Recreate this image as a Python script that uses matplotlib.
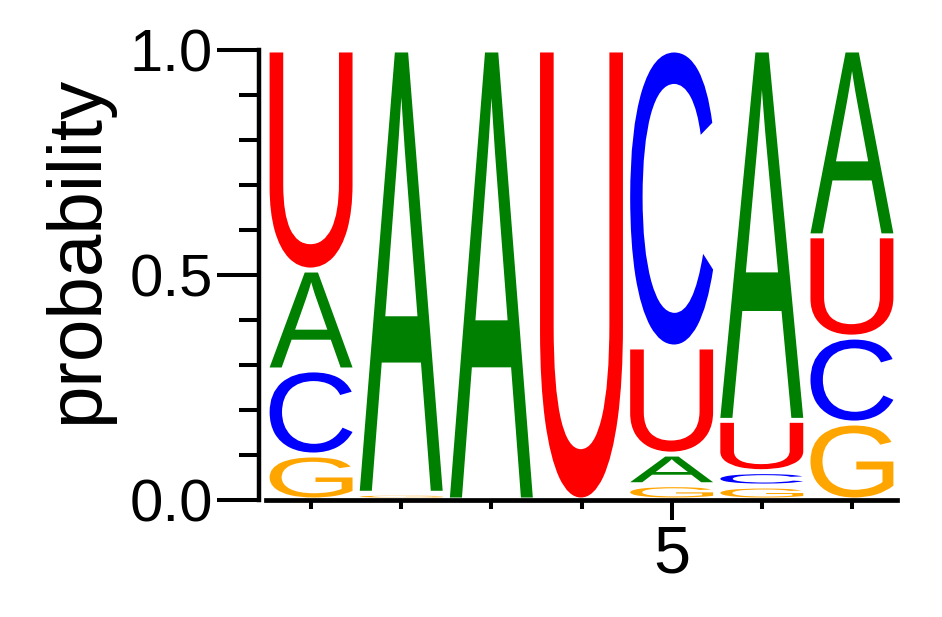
import matplotlib
matplotlib.use('Agg')
import matplotlib.pyplot as plt
from matplotlib.textpath import TextPath
from matplotlib.patches import PathPatch
from matplotlib.font_manager import FontProperties
from matplotlib.transforms import Affine2D
from matplotlib.ticker import MultipleLocator

# sequence logo, probability per base at each position
positions = [1, 2, 3, 4, 5, 6, 7]
prob_A = [0.222, 0.985, 1.000, 0.000, 0.068, 0.823, 0.413]
prob_C = [0.189, 0.000, 0.000, 0.000, 0.660, 0.032, 0.191]
prob_G = [0.100, 0.015, 0.000, 0.000, 0.034, 0.031, 0.171]
prob_U = [0.489, 0.000, 0.000, 1.000, 0.238, 0.114, 0.225]

colors = {'A': '#008000', 'C': '#0000ff', 'G': '#ffa500', 'U': '#ff0000'}

plt.rcParams['font.family'] = ['Liberation Sans', 'DejaVu Sans']

fig = plt.figure(figsize=(9.42, 6.17), dpi=100)
ax = fig.add_axes([266 / 942, 1 - 500 / 617, (897 - 266) / 942, 450 / 617])

fp = FontProperties(family='Liberation Sans')
glyph_w = 0.92
pad = 0.0055


def draw_letter(letter, x, y0, h):
    hh = h - 2 * pad
    if hh <= 0:
        return
    tp = TextPath((0, 0), letter, size=1, prop=fp)
    bb = tp.get_extents()
    t = (Affine2D().translate(-bb.x0, -bb.y0)
         .scale(glyph_w / bb.width, hh / bb.height)
         .translate(x - glyph_w / 2, y0 + pad))
    ax.add_patch(PathPatch(t.transform_path(tp), facecolor=colors[letter],
                           edgecolor='none', lw=0))


for i, x in enumerate(positions):
    col = [(prob_A[i], 'A'), (prob_C[i], 'C'), (prob_G[i], 'G'), (prob_U[i], 'U')]
    col.sort(key=lambda c: c[0])
    y = 0.0
    for v, letter in col:
        if v > 0:
            draw_letter(letter, x, y, v)
        y += v

ax.set_xlim(0.5, 7.5)
ax.set_ylim(0, 1)

ax.spines['top'].set_visible(False)
ax.spines['right'].set_visible(False)
ax.spines['left'].set_position(('outward', 5))
ax.spines['left'].set_linewidth(3.2)
ax.spines['bottom'].set_linewidth(3.4)

ax.xaxis.set_major_locator(MultipleLocator(5))
ax.xaxis.set_minor_locator(MultipleLocator(1))
ax.yaxis.set_major_locator(MultipleLocator(0.5))
ax.yaxis.set_minor_locator(MultipleLocator(0.1))
ax.yaxis.set_major_formatter(matplotlib.ticker.FormatStrFormatter('%.1f'))

ax.tick_params(axis='y', which='major', length=30, width=2.9, labelsize=43, pad=3)
ax.tick_params(axis='y', which='minor', length=14.5, width=2.9)
ax.tick_params(axis='x', which='major', length=14.5, width=2.9, labelsize=48, pad=3)
ax.tick_params(axis='x', which='minor', length=6.5, width=2.9)

fig.text(78 / 942, 1 - 250 / 617, 'probability', rotation=90, ha='center',
         va='center', fontsize=55)

fig.savefig('out.png', dpi=100)
